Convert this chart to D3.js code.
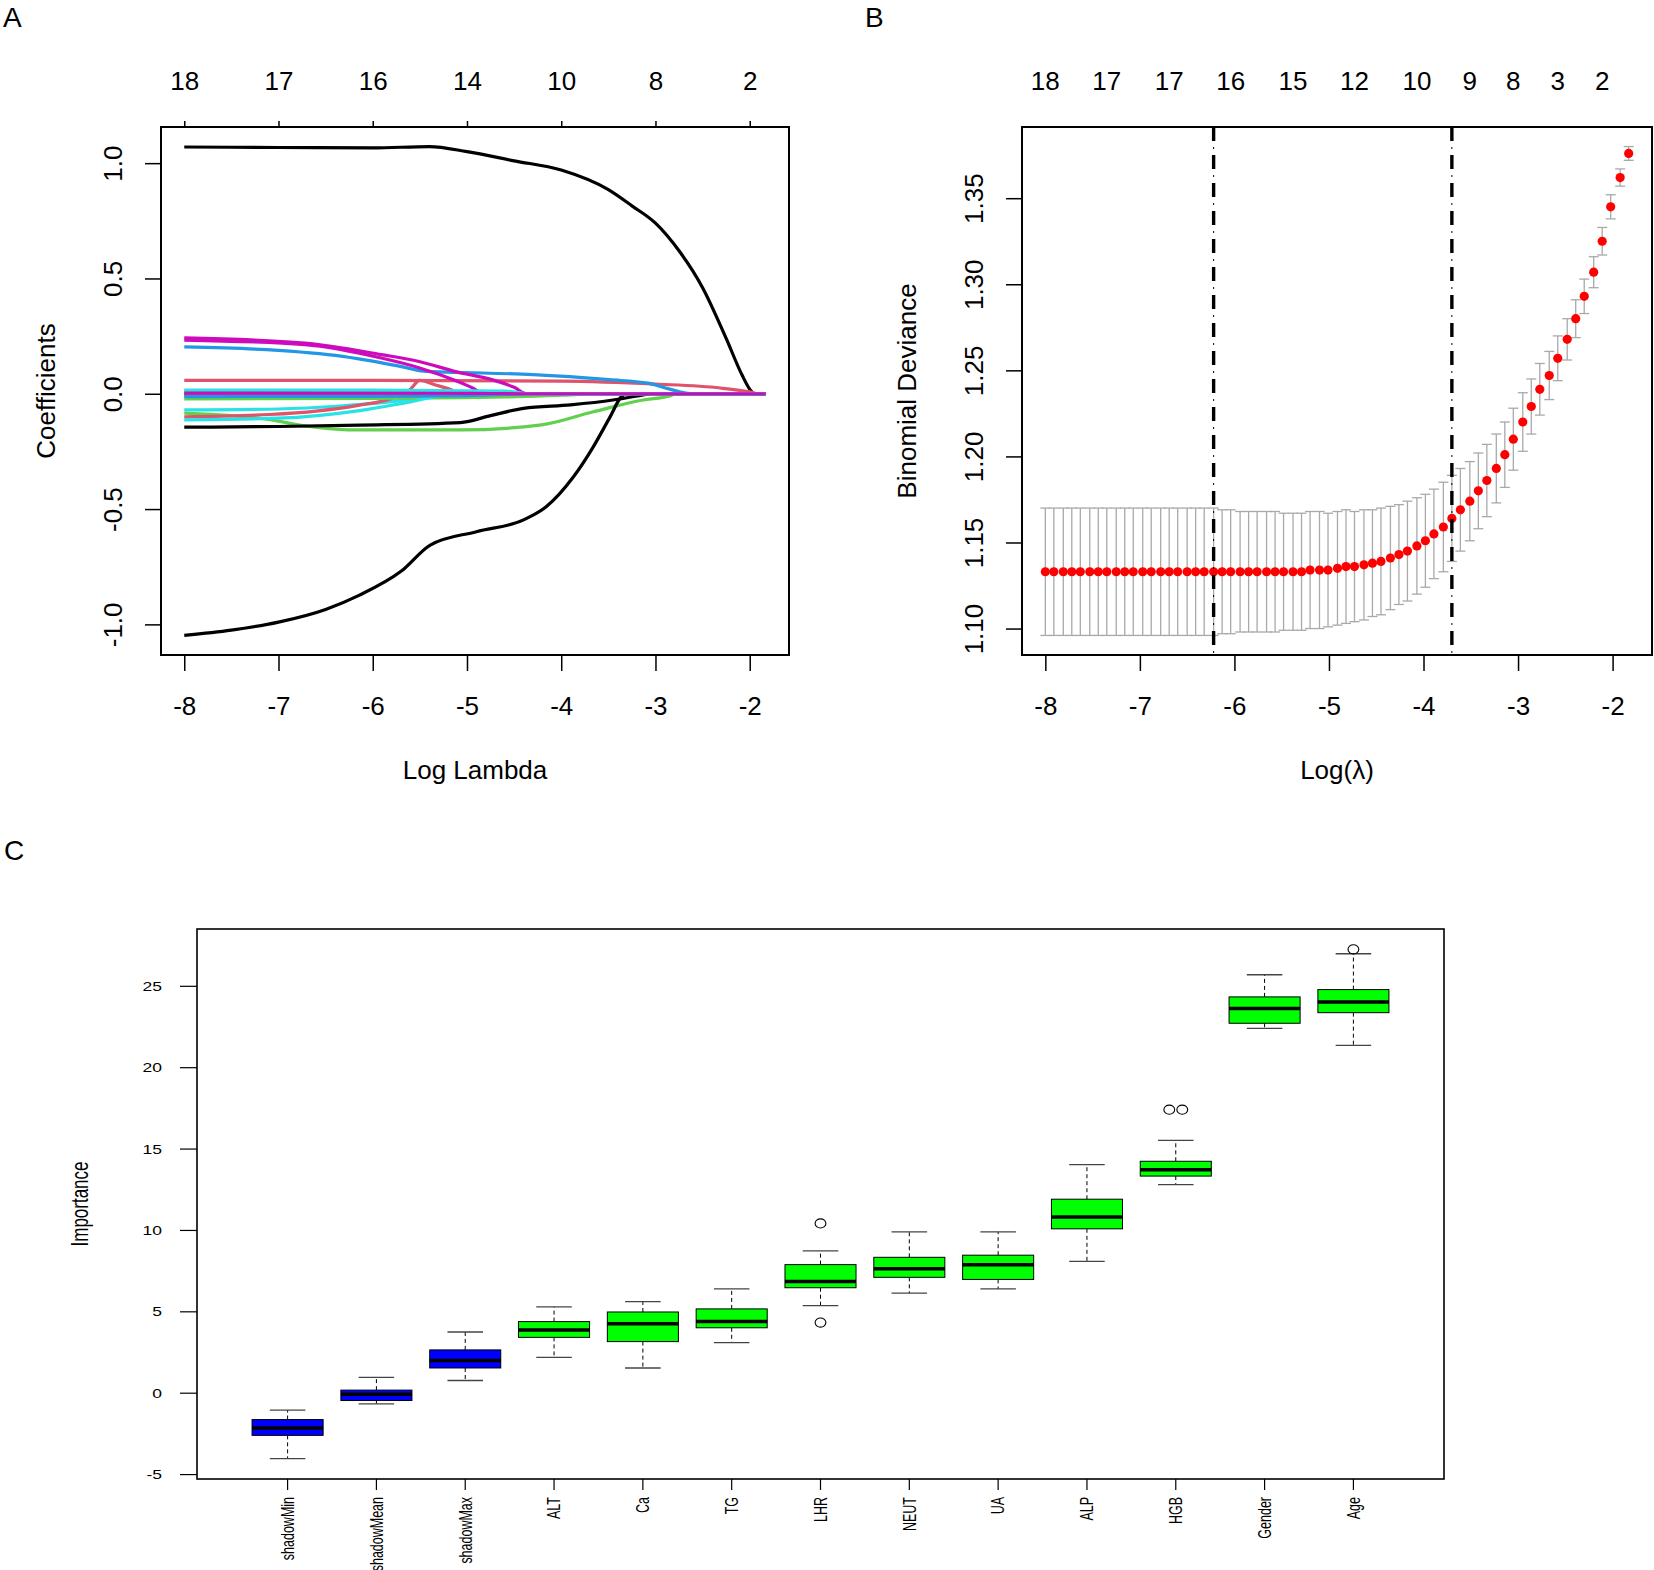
<!DOCTYPE html>
<html>
<head>
<meta charset="utf-8">
<script src="https://cdn.jsdelivr.net/npm/d3@7"></script>
<style>
  body { margin: 0; background: #fff; }
  svg { display: block; font-family: 'Liberation Sans', Arial, Helvetica, sans-serif; }
</style>
</head>
<body>
<svg id="fig" width="1654" height="1570"></svg>
<script>
// ---- panel A: lasso coefficient paths (log lambda, coefficient) ----
const PATH_TOP_AT = [-8, -7, -6, -5, -4, -3, -2]
const PATH_TOP_LABELS = ['18', '17', '16', '14', '10', '8', '2']
const A_X_TICKS = [-8, -7, -6, -5, -4, -3, -2]
const A_Y_TICKS = [-1, -0.5, 0, 0.5, 1]

const COEF_V1 = [[-8, 1.07], [-7, 1.068], [-6, 1.066], [-5.4, 1.072], [-5, 1.05], [-4.5, 1.01], [-4, 0.97], [-3.5, 0.885], [-3.25, 0.815], [-3, 0.74], [-2.75, 0.62], [-2.5, 0.46], [-2.25, 0.24], [-2.08, 0.08], [-2, 0.02], [-1.95, 0], [-1.83, 0]]
const COEF_V2 = [[-8, 0.058], [-6, 0.058], [-4, 0.055], [-3, 0.042], [-2.31, 0.025], [-2, 0.008], [-1.9, 0], [-1.83, 0]]
const COEF_V3 = [[-8, -0.084], [-7.5, -0.095], [-7.13, -0.11], [-6.7, -0.14], [-6.14, -0.157], [-5.07, -0.157], [-4.23, -0.136], [-3.66, -0.078], [-3.13, -0.027], [-2.85, -0.01], [-2.78, 0], [-1.83, 0]]
const COEF_V4 = [[-8, 0.203], [-7.13, 0.191], [-6.32, 0.162], [-5.71, 0.119], [-5.43, 0.097], [-5.11, 0.093], [-4.3, 0.083], [-3.49, 0.061], [-3.08, 0.046], [-2.85, 0.02], [-2.68, 0.003], [-2.6, 0], [-1.83, 0]]
const COEF_V5 = [[-8, -0.07], [-7, -0.066], [-6.32, -0.052], [-5.8, -0.034], [-5.5, -0.018], [-5.2, -0.004], [-5.05, 0], [-1.83, 0]]
const COEF_V6 = [[-8, 0.242], [-6.72, 0.22], [-5.91, 0.17], [-5.51, 0.14], [-5.11, 0.095], [-4.71, 0.058], [-4.5, 0.028], [-4.37, 0], [-1.83, 0]]
const COEF_V7 = [[-8, -1.048], [-7.5, -1.025], [-7, -0.99], [-6.5, -0.935], [-6.14, -0.873], [-5.7, -0.77], [-5.39, -0.656], [-4.9, -0.598], [-4.4, -0.547], [-4.16, -0.49], [-3.87, -0.36], [-3.66, -0.23], [-3.48, -0.099], [-3.36, -0.012], [-3.3, 0], [-1.83, 0]]
const COEF_V8 = [[-8, -0.1], [-7.1, -0.09], [-6.6, -0.075], [-6.14, -0.049], [-5.8, -0.02], [-5.61, 0.016], [-5.5, 0.058], [-5.35, 0.04], [-5.18, 0.02], [-5.05, 0], [-1.83, 0]]
const COEF_V9 = [[-8, -0.022], [-6, -0.02], [-4.6, -0.014], [-4, -0.006], [-3.6, 0], [-1.83, 0]]
const COEF_V10 = [[-8, -0.005], [-5, -0.005], [-4.4, 0], [-1.83, 0]]
const COEF_V11 = [[-8, -0.113], [-7, -0.106], [-6.14, -0.073], [-5.6, -0.035], [-5.11, 0], [-1.83, 0]]
const COEF_V12 = [[-8, 0.233], [-6.72, 0.213], [-5.91, 0.155], [-5.51, 0.113], [-5.11, 0.055], [-4.93, 0.023], [-4.82, 0], [-1.83, 0]]
const COEF_V13 = [[-8, -0.145], [-7, -0.142], [-6.14, -0.136], [-5.07, -0.125], [-4.75, -0.095], [-4.4, -0.063], [-3.9, -0.048], [-3.45, -0.027], [-3.13, -0.005], [-3.05, 0], [-1.83, 0]]
const COEF_V14 = [[-8, -0.003], [-5, -0.003], [-4.4, 0], [-1.83, 0]]
const COEF_V15 = [[-8, 0.01], [-5, 0.008], [-4.35, 0], [-1.83, 0]]
const COEF_V16 = [[-8, -0.012], [-6, -0.011], [-5, -0.008], [-4.3, 0], [-1.83, 0]]
const COEF_V17 = [[-8, 0.016], [-6, 0.016], [-4.6, 0.012], [-4.35, 0], [-1.83, 0]]
const COEF_V18 = [[-8, 0.003], [-5, 0.002], [-4.4, 0], [-1.83, 0]]
const COEF_PATHS = [
  COEF_V1, COEF_V2, COEF_V3, COEF_V4, COEF_V5, COEF_V6,
  COEF_V7, COEF_V8, COEF_V9, COEF_V10, COEF_V11, COEF_V12,
  COEF_V13, COEF_V14, COEF_V15, COEF_V16, COEF_V17, COEF_V18,
]

// ---- panel B: cross-validated binomial deviance ----
const LOG_LAMBDA = [
  -8.00, -7.91, -7.81, -7.72, -7.63, -7.53, -7.44, -7.35, -7.25, -7.16,
  -7.07, -6.97, -6.88, -6.78, -6.69, -6.60, -6.50, -6.41, -6.32, -6.22,
  -6.13, -6.04, -5.94, -5.85, -5.76, -5.66, -5.57, -5.48, -5.38, -5.29,
  -5.20, -5.10, -5.01, -4.91, -4.82, -4.73, -4.63, -4.54, -4.45, -4.35,
  -4.26, -4.17, -4.07, -3.98, -3.89, -3.79, -3.70, -3.61, -3.51, -3.42,
  -3.33, -3.23, -3.14, -3.05, -2.95, -2.86, -2.77, -2.67, -2.58, -2.48,
  -2.39, -2.30, -2.20, -2.11, -2.02, -1.92, -1.83,
]
const CV_MEAN = [
  1.133, 1.133, 1.133, 1.133, 1.133, 1.133, 1.133, 1.133, 1.133, 1.133,
  1.133, 1.133, 1.133, 1.133, 1.133, 1.133, 1.133, 1.133, 1.133, 1.133,
  1.133, 1.133, 1.133, 1.133, 1.133, 1.133, 1.133, 1.133, 1.133, 1.133,
  1.134, 1.134, 1.134, 1.135, 1.136, 1.136, 1.137, 1.138, 1.139, 1.141,
  1.143, 1.145, 1.148, 1.151, 1.155, 1.159, 1.164, 1.169, 1.174, 1.180,
  1.186, 1.193, 1.201, 1.210, 1.220, 1.229, 1.239, 1.247, 1.257, 1.268,
  1.280, 1.293, 1.307, 1.325, 1.345, 1.362, 1.376,
]
const CV_SD = [
  0.037, 0.037, 0.037, 0.037, 0.037, 0.037, 0.037, 0.037, 0.037, 0.037,
  0.037, 0.037, 0.037, 0.037, 0.037, 0.037, 0.037, 0.037, 0.037, 0.037,
  0.036, 0.036, 0.035, 0.035, 0.035, 0.035, 0.035, 0.034, 0.034, 0.034,
  0.034, 0.034, 0.033, 0.033, 0.033, 0.032, 0.032, 0.031, 0.031, 0.030,
  0.029, 0.029, 0.028, 0.027, 0.026, 0.026, 0.025, 0.024, 0.023, 0.022,
  0.021, 0.020, 0.019, 0.018, 0.017, 0.016, 0.015, 0.014, 0.013, 0.012,
  0.011, 0.010, 0.009, 0.008, 0.007, 0.005, 0.004,
]
const CV_TOP_AT = [-8.00, -7.35, -6.69, -6.04, -5.38, -4.73, -4.07, -3.51, -3.05, -2.58, -2.11]
const CV_TOP_LABELS = ['18', '17', '17', '16', '15', '12', '10', '9', '8', '3', '2']
const CV_MIN_INDEX = 19
const CV_1SE_INDEX = 46
const B_X_TICKS = [-8, -7, -6, -5, -4, -3, -2]
const B_Y_TICKS = [1.10, 1.15, 1.20, 1.25, 1.30, 1.35]

// ---- panel C: Boruta importance ----
const FEATURES = ['shadowMin', 'shadowMean', 'shadowMax', 'ALT', 'Ca', 'TG', 'LHR', 'NEUT', 'UA', 'ALP', 'HGB', 'Gender', 'Age']
const IMP_LOW = [-4.02, -0.65, 0.78, 2.20, 1.55, 3.11, 5.38, 6.15, 6.41, 8.10, 12.82, 22.41, 21.37]
const IMP_Q1 = [-2.59, -0.45, 1.55, 3.43, 3.17, 4.02, 6.48, 7.12, 6.99, 10.10, 13.34, 22.73, 23.38]
const IMP_MEDIAN = [-2.14, -0.06, 2.01, 3.89, 4.27, 4.40, 6.87, 7.64, 7.90, 10.82, 13.73, 23.64, 24.03]
const IMP_Q3 = [-1.62, 0.19, 2.66, 4.40, 4.99, 5.18, 7.90, 8.35, 8.48, 11.92, 14.25, 24.35, 24.80]
const IMP_HIGH = [-1.04, 0.97, 3.76, 5.31, 5.63, 6.41, 8.74, 9.91, 9.91, 14.05, 15.54, 25.71, 27.00]
const IMP_OUTLIERS = [[], [], [], [], [], [], [10.43, 4.34], [], [], [], [17.42, 17.42], [], [27.27]]
const C_Y_TICKS = [-5, 0, 5, 10, 15, 20, 25]

// R default palette, recycled by matplot
const PALETTE = ['#000000', '#DF536B', '#61D04F', '#2297E6', '#28E2E5', '#CD0BBC']
const pad = ([a, b]) => [a - (b - a) * 0.04, b + (b - a) * 0.04]

const svg = d3.select('#fig')
svg.append('rect').attr('width', 1654).attr('height', 1570).attr('fill', '#fff')

const tidy = (g, size) => {
  g.select('.domain').remove()
  g.attr('font-size', size).attr('font-family', null)
  g.selectAll('line').attr('stroke', '#000').attr('stroke-width', 1.5)
  g.selectAll('text').attr('fill', '#000')
}

const frame = (g, box, w) => g.append('rect')
  .attr('x', box.left).attr('y', box.top)
  .attr('width', box.right - box.left).attr('height', box.bottom - box.top)
  .attr('fill', 'none').attr('stroke', '#000').attr('stroke-width', w)

// panel letters
;[['A', 3, 27], ['B', 865, 27], ['C', 4, 860]].forEach(([t, x, y]) => {
  svg.append('text').attr('x', x).attr('y', y).attr('font-size', 28).text(t)
})

// bottom/left axes shared by A and B
const rAxes = (g, box, x, y, xTicks, yTicks, yFmt) => {
  g.append('g').attr('transform', `translate(0,${box.bottom})`)
    .call(d3.axisBottom(x).tickValues(xTicks).tickSize(16).tickFormat(d => String(d)))
    .call(a => {
      tidy(a, 26)
      a.selectAll('text').attr('y', 60).attr('dy', 0)
    })
  g.append('g').attr('transform', `translate(${box.left},0)`)
    .call(d3.axisLeft(y).tickValues(yTicks).tickSize(16).tickFormat(yFmt))
    .call(a => {
      tidy(a, 26)
      a.selectAll('text').attr('x', 0).attr('dy', 0)
        .attr('text-anchor', 'middle')
        .attr('transform', 'translate(-39,0) rotate(-90)')
    })
}

// ================= A =================
const A = { left: 161, right: 789, top: 127, bottom: 655 }
const xA = d3.scaleLinear().domain(pad(d3.extent(LOG_LAMBDA))).range([A.left, A.right])
const yA = d3.scaleLinear()
  .domain(pad(d3.extent(COEF_PATHS.flat().map(d => d[1]))))
  .range([A.bottom, A.top])
const gA = svg.append('g')
const coefLine = d3.line().x(d => xA(d[0])).y(d => yA(d[1])).curve(d3.curveMonotoneX)

gA.append('g').selectAll('path').data(COEF_PATHS).join('path')
  .attr('d', coefLine)
  .attr('fill', 'none')
  .attr('stroke', (_, i) => PALETTE[i % 6])
  .attr('stroke-width', 3.2)
  .attr('stroke-linejoin', 'round')

frame(gA, A, 2)
rAxes(gA, A, xA, yA, A_X_TICKS, A_Y_TICKS, d => d.toFixed(1))
gA.append('g').attr('transform', `translate(0,${A.top})`)
  .call(d3.axisTop(xA).tickValues(PATH_TOP_AT).tickSize(6).tickFormat((_, i) => PATH_TOP_LABELS[i]))
  .call(a => {
    tidy(a, 26)
    a.selectAll('text').attr('y', -37.5).attr('dy', 0)
  })
gA.append('text').attr('x', (A.left + A.right) / 2).attr('y', 779)
  .attr('text-anchor', 'middle').attr('font-size', 26).text('Log Lambda')
gA.append('text').attr('transform', `translate(${A.left - 106},${(A.top + A.bottom) / 2}) rotate(-90)`)
  .attr('text-anchor', 'middle').attr('font-size', 26).text('Coefficients')

// ================= B =================
const B = { left: 1022, right: 1652, top: 127, bottom: 655 }
const CV = LOG_LAMBDA.map((l, i) => ({ l, m: CV_MEAN[i], s: CV_SD[i] }))
const xB = d3.scaleLinear().domain(pad(d3.extent(LOG_LAMBDA))).range([B.left, B.right])
const yB = d3.scaleLinear()
  .domain(pad([d3.min(CV, d => d.m - d.s), d3.max(CV, d => d.m + d.s)]))
  .range([B.bottom, B.top])
const gB = svg.append('g')

const bars = gB.append('g').attr('stroke', '#A9A9A9').attr('stroke-width', 1.3)
  .selectAll('g').data(CV).join('g')
bars.append('line')
  .attr('x1', d => xB(d.l)).attr('x2', d => xB(d.l))
  .attr('y1', d => yB(d.m - d.s)).attr('y2', d => yB(d.m + d.s))
bars.append('line')
  .attr('x1', d => xB(d.l) - 5).attr('x2', d => xB(d.l) + 5)
  .attr('y1', d => yB(d.m + d.s)).attr('y2', d => yB(d.m + d.s))
bars.append('line')
  .attr('x1', d => xB(d.l) - 5).attr('x2', d => xB(d.l) + 5)
  .attr('y1', d => yB(d.m - d.s)).attr('y2', d => yB(d.m - d.s))

gB.append('g').selectAll('circle').data(CV).join('circle')
  .attr('cx', d => xB(d.l)).attr('cy', d => yB(d.m)).attr('r', 4.6)
  .attr('fill', '#FF0000')

const cuts = [LOG_LAMBDA[CV_MIN_INDEX], LOG_LAMBDA[CV_1SE_INDEX]]
cuts.forEach(l => {
  gB.append('line')
    .attr('x1', xB(l)).attr('x2', xB(l)).attr('y1', B.top).attr('y2', B.bottom)
    .attr('stroke', '#000').attr('stroke-width', 3.4).attr('stroke-dasharray', '14 14')
  gB.append('line')
    .attr('x1', xB(l)).attr('x2', xB(l)).attr('y1', B.top).attr('y2', B.bottom)
    .attr('stroke', '#000').attr('stroke-width', 1).attr('stroke-dasharray', '2 26')
    .attr('stroke-dashoffset', -20)
})

frame(gB, B, 2)
rAxes(gB, B, xB, yB, B_X_TICKS, B_Y_TICKS, d => d.toFixed(2))
gB.append('g').selectAll('text').data(CV_TOP_AT).join('text')
  .attr('x', d => xB(d)).attr('y', B.top - 37.5)
  .attr('text-anchor', 'middle').attr('font-size', 26)
  .text((_, i) => CV_TOP_LABELS[i])
gB.append('text').attr('x', (B.left + B.right) / 2).attr('y', 779)
  .attr('text-anchor', 'middle').attr('font-size', 26).text('Log(λ)')
gB.append('text').attr('transform', `translate(${B.left - 106},${(B.top + B.bottom) / 2}) rotate(-90)`)
  .attr('text-anchor', 'middle').attr('font-size', 26).text('Binomial Deviance')

// ================= C =================
// this panel was stretched sideways in the source figure
const STRETCH = 1.4
const C = { left: 197, right: 1444, top: 929, bottom: 1479 }
const BOXES = FEATURES.map((f, i) => ({
  f, i: i + 1,
  lo: IMP_LOW[i], q1: IMP_Q1[i], med: IMP_MEDIAN[i], q3: IMP_Q3[i], hi: IMP_HIGH[i],
  out: IMP_OUTLIERS[i],
}))
const xC = d3.scaleLinear().domain(pad([0.5, FEATURES.length + 0.5])).range([C.left, C.right])
const allImp = BOXES.flatMap(b => [b.lo, b.hi, ...b.out])
const yC = d3.scaleLinear().domain(pad(d3.extent(allImp))).range([C.bottom, C.top])
const bw = xC(1.4) - xC(1)
const sw = xC(1.2) - xC(1)
const gC = svg.append('g')

const box = gC.selectAll('g.box').data(BOXES).join('g').attr('class', 'box')
box.append('line')
  .attr('x1', d => xC(d.i)).attr('x2', d => xC(d.i))
  .attr('y1', d => yC(d.q3)).attr('y2', d => yC(d.hi))
  .attr('stroke', '#000').attr('stroke-dasharray', '4 3')
box.append('line')
  .attr('x1', d => xC(d.i)).attr('x2', d => xC(d.i))
  .attr('y1', d => yC(d.q1)).attr('y2', d => yC(d.lo))
  .attr('stroke', '#000').attr('stroke-dasharray', '4 3')
box.selectAll('line.cap').data(d => [[d.i, d.hi], [d.i, d.lo]]).join('line')
  .attr('class', 'cap')
  .attr('x1', d => xC(d[0]) - sw).attr('x2', d => xC(d[0]) + sw)
  .attr('y1', d => yC(d[1])).attr('y2', d => yC(d[1]))
  .attr('stroke', '#444').attr('stroke-width', 1.3)
box.append('rect')
  .attr('x', d => xC(d.i) - bw).attr('width', bw * 2)
  .attr('y', d => yC(d.q3)).attr('height', d => yC(d.q1) - yC(d.q3))
  .attr('fill', d => d.f.startsWith('shadow') ? '#0000FF' : '#00FF00')
  .attr('stroke', '#000').attr('stroke-width', 1)
box.append('line')
  .attr('x1', d => xC(d.i) - bw).attr('x2', d => xC(d.i) + bw)
  .attr('y1', d => yC(d.med)).attr('y2', d => yC(d.med))
  .attr('stroke', '#000').attr('stroke-width', 3.5)
// repeated outlier values are set side by side
box.selectAll('ellipse').data(d => d.out.map((v, k) => {
  const same = d.out.filter(o => o === v)
  const rank = d.out.slice(0, k).filter(o => o === v).length
  return { x: d.i, v, off: (rank - (same.length - 1) / 2) * 13 }
})).join('ellipse')
  .attr('cx', d => xC(d.x) + d.off).attr('cy', d => yC(d.v))
  .attr('rx', 5.4).attr('ry', 4.6)
  .attr('fill', 'none').attr('stroke', '#000').attr('stroke-width', 1.1)

frame(gC, C, 1.6)

const yAxC = gC.append('g')
yAxC.selectAll('line').data(C_Y_TICKS).join('line')
  .attr('x1', C.left - 17).attr('x2', C.left)
  .attr('y1', d => yC(d)).attr('y2', d => yC(d))
  .attr('stroke', '#000').attr('stroke-width', 1.2)
yAxC.selectAll('text').data(C_Y_TICKS).join('text')
  .attr('transform', d => `translate(${C.left - 35},${yC(d)}) scale(${STRETCH},1)`)
  .attr('text-anchor', 'end').attr('dominant-baseline', 'central')
  .attr('font-size', 12.5).text(d => String(d))

const xAxC = gC.append('g')
xAxC.selectAll('line').data(BOXES).join('line')
  .attr('x1', d => xC(d.i)).attr('x2', d => xC(d.i))
  .attr('y1', C.bottom).attr('y2', C.bottom + 11)
  .attr('stroke', '#000').attr('stroke-width', 1.2)
xAxC.selectAll('text').data(BOXES).join('text')
  .attr('transform', d => `translate(${xC(d.i)},${C.bottom + 18}) scale(${STRETCH},1) rotate(-90)`)
  .attr('text-anchor', 'end').attr('dominant-baseline', 'central')
  .attr('font-size', 12.5).text(d => d.f)

gC.append('text')
  .attr('transform', `translate(79,${(C.top + C.bottom) / 2}) scale(${STRETCH},1) rotate(-90)`)
  .attr('text-anchor', 'middle').attr('dominant-baseline', 'central')
  .attr('font-size', 17).text('Importance')
</script>
</body>
</html>
